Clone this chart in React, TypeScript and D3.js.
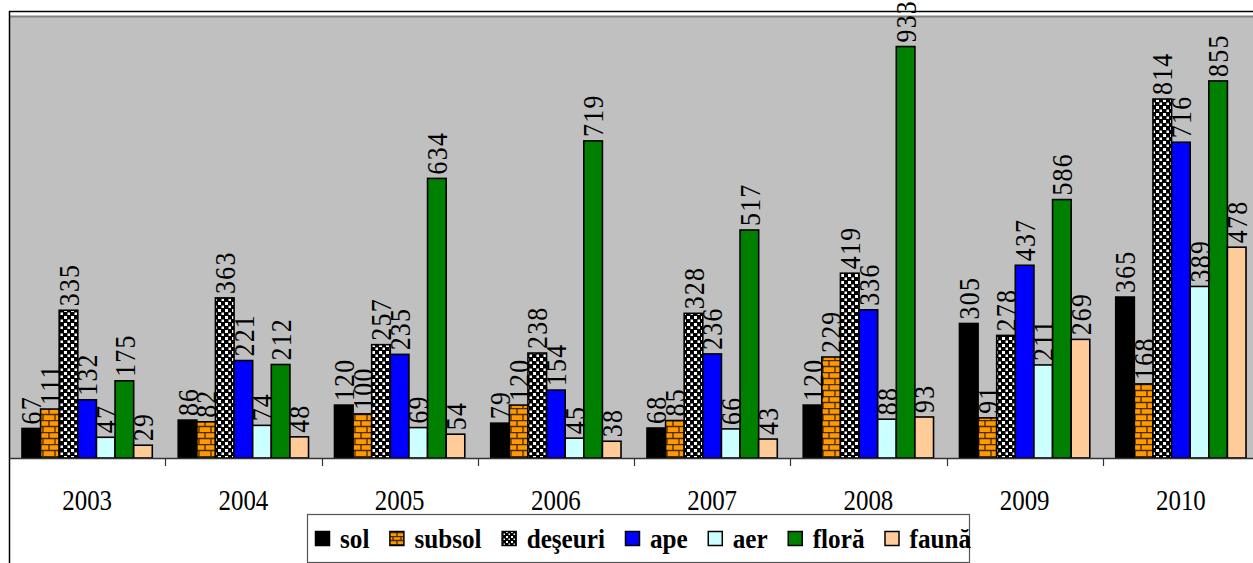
import React, { useRef, useEffect } from "react";
import * as d3 from "d3";

const years: string[] = ["2003", "2004", "2005", "2006", "2007", "2008", "2009", "2010"];
const seriesNames: string[] = ["sol", "subsol", "deşeuri", "ape", "aer", "floră", "faună"];

const sol: number[] = [67, 86, 120, 79, 68, 120, 305, 365];
const subsol: number[] = [111, 82, 100, 120, 85, 229, 91, 168];
const deseuri: number[] = [335, 363, 257, 238, 328, 419, 278, 814];
const ape: number[] = [132, 221, 235, 154, 236, 336, 437, 716];
const aer: number[] = [47, 74, 69, 45, 66, 88, 211, 389];
const flora: number[] = [175, 212, 634, 719, 517, 933, 586, 855];
const fauna: number[] = [29, 48, 54, 38, 43, 93, 269, 478];

const seriesValues: number[][] = [sol, subsol, deseuri, ape, aer, flora, fauna];
const seriesFills: string[] = ["#000000", "url(#brick)", "url(#confetti)", "#0000FF", "#CCFFFF", "#008000", "#FFCC99"];
const legendFills: string[] = ["#000000", "url(#brickL)", "url(#confettiL)", "#0000FF", "#CCFFFF", "#008000", "#FFCC99"];

const FONT = "Liberation Serif";

interface IBar {
  year: string;
  series: string;
  value: number;
  fill: string;
}

const App: React.FC = () => {
  const ref = useRef<SVGSVGElement>(null);
  const width = 1253;
  const height = 563;

  useEffect(() => {
    const svg = d3.select(ref.current);
    svg.selectAll("*").remove();
    svg.attr("width", width).attr("height", height);

    const plotLeft = 9;
    const plotRight = 1259;
    const plotTop = 16;
    const axisY = 458;

    // patterns
    const defs = svg.append("defs");
    const brick = (id: string, size: number) => {
      const p = defs
        .append("pattern")
        .attr("id", id)
        .attr("patternUnits", "userSpaceOnUse")
        .attr("width", size)
        .attr("height", size);
      p.append("rect").attr("width", size).attr("height", size).attr("fill", "#FF9900");
      const h = size / 2;
      p.append("path")
        .attr("d", `M0,0.5H${size}M0,${h + 0.5}H${size}M1,0V${h}M${h + 1},${h}V${size}`)
        .attr("stroke", "#4a2a00")
        .attr("stroke-width", 1.3);
    };
    brick("brick", 12);
    brick("brickL", 8);
    const confetti = (id: string, size: number, sq: number) => {
      const p = defs
        .append("pattern")
        .attr("id", id)
        .attr("patternUnits", "userSpaceOnUse")
        .attr("width", size)
        .attr("height", size);
      p.append("rect").attr("width", size).attr("height", size).attr("fill", "#000");
      p.append("rect").attr("x", 1).attr("y", 1).attr("width", sq).attr("height", sq).attr("fill", "#fff");
      p.append("rect").attr("x", size / 2 + 1).attr("y", size / 2 + 1).attr("width", sq).attr("height", sq).attr("fill", "#fff");
    };
    confetti("confetti", 7, 3);
    confetti("confettiL", 5, 2);

    // chart border
    svg.append("line")
      .attr("x1", plotLeft).attr("x2", width)
      .attr("y1", 11.5).attr("y2", 11.5)
      .attr("stroke", "#000").attr("stroke-width", 1.5);

    // plot area
    svg.append("rect")
      .attr("x", plotLeft)
      .attr("y", plotTop)
      .attr("width", plotRight - plotLeft)
      .attr("height", axisY - plotTop)
      .attr("fill", "#C0C0C0");
    svg.append("line")
      .attr("x1", plotLeft).attr("x2", width)
      .attr("y1", plotTop + 0.5).attr("y2", plotTop + 0.5)
      .attr("stroke", "#808080").attr("stroke-width", 2);
    svg.append("line")
      .attr("x1", plotLeft + 0.5).attr("x2", plotLeft + 0.5)
      .attr("y1", 11).attr("y2", height)
      .attr("stroke", "#000").attr("stroke-width", 1.5);

    const xScale = d3.scaleBand<string>().domain(years).range([plotLeft, plotRight]);
    const bw = xScale.bandwidth();
    const inner = d3
      .scaleBand<string>()
      .domain(seriesNames)
      .range([bw * 0.083, bw * 0.917]);
    const yScale = d3.scaleLinear().domain([0, 1000]).range([axisY, plotTop + 1]);

    const bars: IBar[] = [];
    years.forEach((year, i) => {
      seriesNames.forEach((s, j) => {
        bars.push({ year, series: s, value: seriesValues[j][i], fill: seriesFills[j] });
      });
    });

    const g = svg.append("g");
    g.selectAll(".bar")
      .data(bars)
      .enter()
      .append("rect")
      .attr("class", "bar")
      .attr("x", (d) => (xScale(d.year) || 0) + (inner(d.series) || 0))
      .attr("y", (d) => yScale(d.value))
      .attr("width", inner.bandwidth())
      .attr("height", (d) => axisY - yScale(d.value))
      .attr("fill", (d) => d.fill)
      .attr("stroke", "#000")
      .attr("stroke-width", 1.6);

    // value labels
    g.selectAll(".lbl")
      .data(bars)
      .enter()
      .append("text")
      .attr("class", "lbl")
      .attr("transform", (d) => {
        const cx = (xScale(d.year) || 0) + (inner(d.series) || 0) + inner.bandwidth() / 2;
        return `translate(${cx}, ${yScale(d.value) - 4}) rotate(-90) scale(0.86, 1)`;
      })
      .attr("dominant-baseline", "central")
      .style("font-family", FONT)
      .attr("font-size", 30)
      .attr("letter-spacing", 1.5)
      .attr("fill", "#000")
      .text((d) => d.value);

    // x axis
    svg.append("line")
      .attr("x1", plotLeft).attr("x2", width)
      .attr("y1", axisY + 0.5).attr("y2", axisY + 0.5)
      .attr("stroke", "#333").attr("stroke-width", 1.5);
    years.slice(1).forEach((y) => {
      const x = Math.round(xScale(y) || 0) + 0.5;
      svg.append("line")
        .attr("x1", x).attr("x2", x)
        .attr("y1", axisY).attr("y2", axisY + 8)
        .attr("stroke", "#333").attr("stroke-width", 1.2);
    });
    svg.selectAll(".cat")
      .data(years)
      .enter()
      .append("text")
      .attr("class", "cat")
      .attr("transform", (d) => `translate(${(xScale(d) || 0) + bw / 2}, 510) scale(0.86, 1)`)
      .attr("text-anchor", "middle")
      .style("font-family", FONT)
      .attr("font-size", 29)
      .attr("fill", "#000")
      .text((d) => d);

    // legend
    const legX = 307;
    const legY = 514;
    svg.append("rect")
      .attr("x", legX + 0.5).attr("y", legY + 0.5)
      .attr("width", 662).attr("height", 48)
      .attr("fill", "#fff")
      .attr("stroke", "#555").attr("stroke-width", 1.2);
    let cur = legX + 8;
    seriesNames.forEach((s, j) => {
      svg.append("rect")
        .attr("x", cur + 0.5).attr("y", 531.5)
        .attr("width", 14).attr("height", 14)
        .attr("fill", legendFills[j])
        .attr("stroke", "#000").attr("stroke-width", 1.5);
      const t = svg.append("text")
        .attr("transform", `translate(${cur + 25}, 548) scale(0.9, 1)`)
        .style("font-family", FONT)
        .attr("font-weight", "bold")
        .attr("font-size", 28)
        .attr("fill", "#000")
        .text(s);
      const len = (t.node() as SVGTextElement).getComputedTextLength() * 0.9;
      cur = cur + 25 + len + 20;
    });
  }, []);

  return (
    <svg ref={ref} style={{ position: "absolute", left: 0, top: 0, background: "#fff" }}></svg>
  );
};

export default App;
